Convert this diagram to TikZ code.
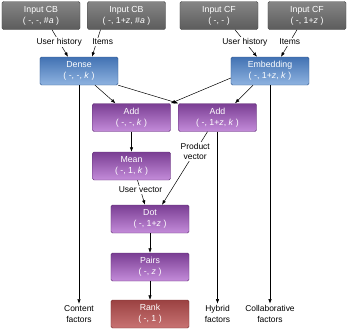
\documentclass[tikz,border=0pt]{standalone}
\usepackage{fontspec}
\setmainfont{Liberation Sans}
\usetikzlibrary{arrows.meta}
\definecolor{graut}{HTML}{858585}
\definecolor{graub}{HTML}{5C5C5C}
\definecolor{blaut}{HTML}{4272B3}
\definecolor{blaub}{HTML}{8FB3E0}
\definecolor{lilat}{HTML}{7A3E93}
\definecolor{lilab}{HTML}{C48CDA}
\definecolor{rott}{HTML}{9B4242}
\definecolor{rotb}{HTML}{C87373}
\tikzset{
  box/.style={rounded corners=1.5pt,minimum width=78bp,minimum height=28bp,inner sep=0pt,
    align=center,text=white,font=\fontsize{8.8}{10.8}\selectfont,line width=0.4pt},
  ein/.style={box,top color=graut,bottom color=graub,draw=graub!85!black},
  blau/.style={box,top color=blaut,bottom color=blaub,draw=blaut!80!black},
  lila/.style={box,top color=lilat,bottom color=lilab,draw=lilat!80!black},
  rot/.style={box,top color=rott,bottom color=rotb,draw=rott!80!black},
  pf/.style={-{Latex[length=4.5pt,width=3.4pt]},black,line width=0.5pt},
  lbl/.style={fill=white,inner sep=1pt,align=center,font=\fontsize{8.5}{10.2}\selectfont},
  aus/.style={inner sep=2pt,align=center,font=\fontsize{8.5}{10.2}\selectfont},
}

\begin{document}
\begin{tikzpicture}[x=1bp,y=-1bp]
  \useasboundingbox (0,0) rectangle (349,331);
  % inputs
  \node[ein] (incba) at (41,15.5) {Input CB\\( -, -, \#\textit{a} )};
  \node[ein] (incbb) at (126.5,15.5) {Input CB\\( -, 1+\textit{z}, \#\textit{a} )};
  \node[ein] (incfa) at (219,15.5) {Input CF\\( -, - )};
  \node[ein] (incfb) at (307,15.5) {Input CF\\( -, 1+\textit{z} )};
  % layers
  \node[blau] (dense) at (79,71) {Dense\\( -, -, \textit{k} )};
  \node[blau] (embed) at (270,71) {Embedding\\( -, 1+\textit{z}, \textit{k} )};
  \node[lila] (adda) at (131.5,117.5) {Add\\( -, -, \textit{k} )};
  \node[lila] (addb) at (217.5,117.5) {Add\\( -, 1+\textit{z}, \textit{k} )};
  \node[lila] (mean) at (131.5,166) {Mean\\( -, 1, \textit{k} )};
  \node[lila] (dot) at (150,219) {Dot\\( -, 1+\textit{z} )};
  \node[lila] (pairs) at (150,267) {Pairs\\( -, \textit{z} )};
  \node[rot] (rank) at (150,314) {Rank\\( -, 1 )};
  % outputs
  \node[aus] (content) at (79,314) {Content\\factors};
  \node[aus] (hybrid) at (217.5,314) {Hybrid\\factors};
  \node[aus] (collab) at (270,314) {Collaborative\\factors};

  \draw[pf] ([xshift=11bp]incba.south) -- ([xshift=-11bp]dense.north)
    node[lbl,pos=0.45] (uhcb) {User history};
  \draw[pf] ([xshift=-26bp]incbb.south) -- ([xshift=13bp]dense.north)
    node[lbl,pos=0.45,xshift=6bp] (itcb) {Items};
  \draw[pf] ([xshift=16bp]incfa.south) -- ([xshift=-13bp]embed.north)
    node[lbl,pos=0.45] (uhcf) {User history};
  \draw[pf] ([xshift=-10bp]incfb.south) -- ([xshift=11bp]embed.north)
    node[lbl,pos=0.45] (itcf) {Items};

  \draw[pf] ([xshift=16bp]dense.south) -- ([xshift=-16bp]adda.north);
  \draw[pf] (dense.south east) -- (addb.north west);
  \draw[pf] ([yshift=-7bp]embed.west) -- (adda.north east);
  \draw[pf] ([xshift=-17bp]embed.south) -- ([xshift=17.5bp]addb.north);

  \draw[pf] (adda) -- (mean);
  \draw[pf] ([xshift=6bp]mean.south) -- ([xshift=-5bp]dot.north)
    node[lbl,pos=0.4] (uvec) {User vector};
  \draw[pf] ([xshift=-10bp]addb.south) -- ([xshift=12bp]dot.north)
    node[lbl,pos=0.27] (pvec) {Product\\vector};
  \draw[pf] (dot) -- (pairs);
  \draw[pf] (pairs) -- (rank);

  \draw[pf] (dense) -- (content);
  \draw[pf] (addb) -- (hybrid);
  \draw[pf] (embed) -- (collab);
\end{tikzpicture}
\end{document}
